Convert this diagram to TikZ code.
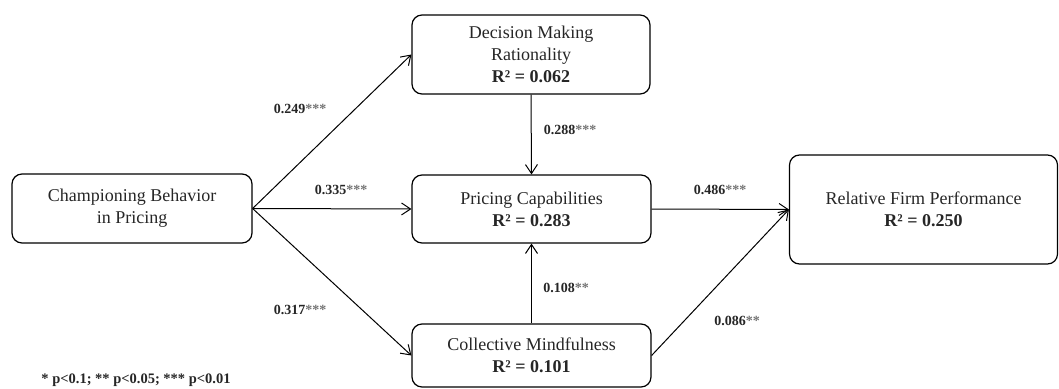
\documentclass[tikz,border=0pt]{standalone}
\usepackage{fontspec}
\setmainfont{Liberation Serif}
\usetikzlibrary{arrows.meta}
\tikzset{>={Straight Barb[length=9pt,width=12pt]}}
\tikzset{
  construct/.style={draw,line width=1.2pt,rounded corners=10pt,align=center,
    font=\fontsize{18}{22}\selectfont,text=black!85},
  coef/.style={font=\bfseries\fontsize{14}{16}\selectfont,text=black!85},
  path/.style={->,line width=1pt},
}
\newcommand{\sig}[1]{\textcolor{black!55}{#1}}

\begin{document}
\begin{tikzpicture}[x=1pt,y=-1pt]
    \useasboundingbox (0,0) rectangle (1059,388);

    \node[construct,minimum width=240pt,minimum height=69pt] (champ) at (132,208.5) {Championing Behavior\\in Pricing};
    \node[construct,minimum width=238pt,minimum height=79pt] (dmr) at (531,54.5) {Decision Making\\Rationality\\\textbf{R² = 0.062}};
    \node[construct,minimum width=239pt,minimum height=68pt] (pc) at (531.5,209) {Pricing Capabilities\\\textbf{R² = 0.283}};
    \node[construct,minimum width=239pt,minimum height=63pt] (cm) at (531.5,355.5) {Collective Mindfulness\\\textbf{R² = 0.101}};
    \node[construct,minimum width=268pt,minimum height=109pt] (rfp) at (923.5,209.5) {Relative Firm Performance\\\textbf{R² = 0.250}};

    \draw[path] (champ.east) -- (dmr.west);
    \draw[path] (champ.east) -- (pc.west);
    \draw[path] (champ.east) -- (cm.west);
    \draw[path] (dmr.south) -- (pc.north);
    \draw[path] (cm.north) -- (pc.south);
    \draw[path] (pc.east) -- (rfp.west);
    \draw[path] (cm.east) -- (rfp.west);

    \node[coef] (c1) at (300,109) {0.249\sig{***}};
    \node[coef] (c2) at (341,190) {0.335\sig{***}};
    \node[coef] (c3) at (300,310) {0.317\sig{***}};
    \node[coef] (c4) at (570,130) {0.288\sig{***}};
    \node[coef] (c5) at (566,288) {0.108\sig{**}};
    \node[coef] (c6) at (720,190) {0.486\sig{***}};
    \node[coef] (c7) at (737,321) {0.086\sig{**}};

    \node[coef,font=\bfseries\fontsize{14.5}{16}\selectfont] (note) at (136,380) {* p<0.1; ** p<0.05; *** p<0.01};
\end{tikzpicture}
\end{document}
